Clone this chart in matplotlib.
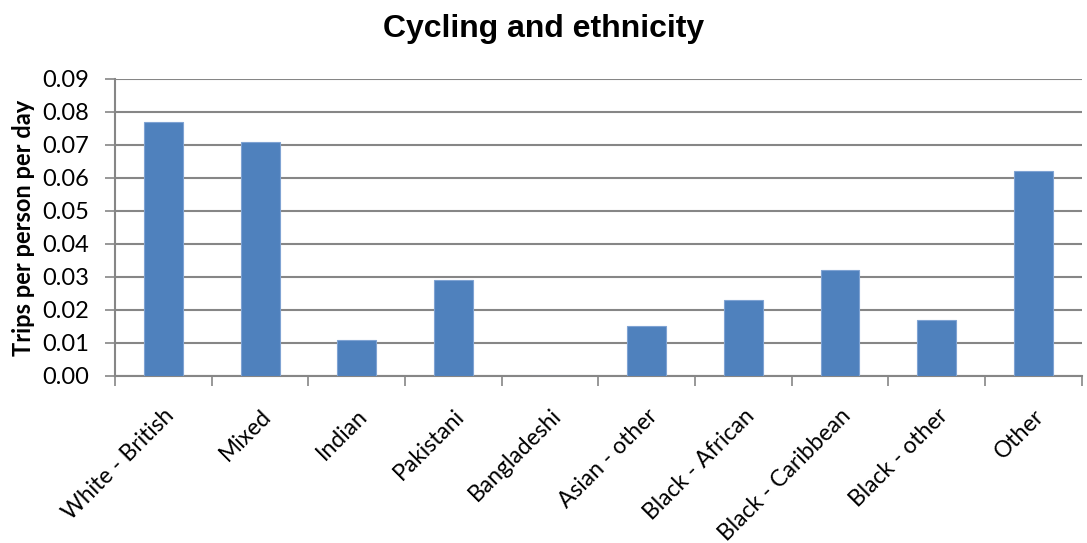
import numpy as np
import matplotlib.pyplot as plt

# data
categories = ["White - British", "Mixed", "Indian", "Pakistani", "Bangladeshi",
              "Asian - other", "Black - African", "Black - Caribbean", "Black - other", "Other"]
trips = [0.077, 0.071, 0.011, 0.029, 0.0, 0.015, 0.023, 0.032, 0.017, 0.062]
yticks = [0.00, 0.01, 0.02, 0.03, 0.04, 0.05, 0.06, 0.07, 0.08, 0.09]

fig = plt.figure(figsize=(10.87, 5.43), dpi=100)
ax = fig.add_axes([0.106, 0.3076, 0.889, 0.547])

x = np.arange(len(categories))
ax.bar(x, trips, width=0.4, color="#4F81BD", edgecolor="#7FA3D3", linewidth=0.8, zorder=3)

ax.set_xlim(-0.5, len(categories) - 0.5)
ax.set_ylim(0, 0.09)
ax.set_yticks(yticks)
ax.set_yticklabels([f"{v:.2f}" for v in yticks], fontsize=17, family="Lato")
ax.yaxis.grid(True, color="#868686", linewidth=1.5, zorder=0)

# category labels at major ticks (hidden), boundary ticks as minor ticks
ax.set_xticks(x)
ax.set_xticklabels(categories, rotation=45, ha="right", rotation_mode="anchor",
                   fontsize=16.5, family="Lato")
ax.tick_params(axis="x", which="major", length=0, pad=21)
ax.set_xticks(np.arange(-0.5, len(categories), 1.0), minor=True)
ax.tick_params(axis="x", which="minor", length=7, width=1.2, color="#868686")
ax.tick_params(axis="y", length=7, width=1.2, color="#868686", pad=12)

for side in ["top", "right"]:
    ax.spines[side].set_visible(False)
for side in ["left", "bottom"]:
    ax.spines[side].set_color("#868686")
    ax.spines[side].set_linewidth(1.5)

ax.set_ylabel("Trips per person per day", fontsize=17, fontweight="bold", family="Lato", labelpad=5)
fig.suptitle("Cycling and ethnicity", fontsize=23, fontweight="bold", family="Liberation Sans", y=0.975)

fig.savefig("out.png", dpi=100)
